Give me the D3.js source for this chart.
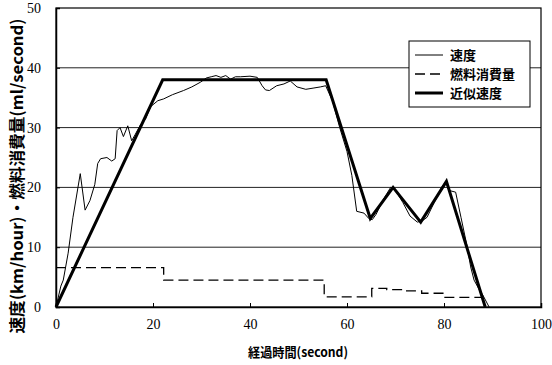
<!DOCTYPE html>
<html><head><meta charset="utf-8">
<script src="https://cdn.jsdelivr.net/npm/d3@7"></script>
<style>body{margin:0;background:#fff}</style>
</head><body>
<svg id="c" width="552" height="365"></svg>
<script>
// Data
const speedT = [0,1,1.5,2.5,3.5,5,6,7,8,8.6,9.2,10.5,11.5,12.2,12.6,13.2,13.9,14.8,15.6,16.3,17.3,18.5,19.5,21,22.2,24,26.3,28,29.8,31,32,33,34,35,36,37,38,40,41.5,42.5,43.2,44,45.5,47,48.3,49.7,51.5,53,54.5,55.6,57,58.5,60,61,62,63.5,64.5,65.2,66,67.5,69,70,71.5,73,74.5,75.5,76.5,78,79.5,80.4,81,82.4,83.5,84.8,85.5,86.2,87.2,88,89.3];
const speedV = [0,3.5,4.5,9,15,22.3,16.2,17.8,20.5,24,24.8,25,24.4,24.8,29.5,30,28.5,30.3,27.8,28.8,30.3,31.5,33.5,34.5,34.8,35.5,36.2,36.8,37.6,38.3,38.5,38.7,38.4,38.7,38.1,38.5,38.5,38.6,38.4,37,36.3,36.2,37,37.3,37.8,36.8,36.4,36.6,36.8,37,34.5,30,26,22,16,15.7,14.8,14.6,15.5,18,20,19.5,17.5,15.2,14.2,14.4,15,17.5,20,21,19.5,19.2,15,10,6.7,4.5,3,2,0];
const fuelT = [0,22.2,22.2,55.3,55.3,65.1,65.1,68.2,68.2,72.3,72.3,75.4,75.4,80.2,80.2,88];
const fuelV = [6.6,6.6,4.5,4.5,1.7,1.7,3.1,3.1,2.9,2.9,2.7,2.7,2.3,2.3,1.6,1.6];
const approxT = [0,22,55.7,64.8,69.5,75.2,80.5,88.5];
const approxV = [0,38,38,14.8,20,14.2,21,0];
const xTicks = [0,20,40,60,80,100];
const yTicks = [0,10,20,30,40,50];
const legendNames = ["速度","燃料消費量","近似速度"];
const xLabel = "経過時間(second)";
const yLabel = "速度(km/hour)・燃料消費量(ml/second)";

const svg = d3.select("#c");
const L=56, R=541, T=8, B=307;
const x = d3.scaleLinear().domain([0,100]).range([L,R]);
const y = d3.scaleLinear().domain([0,50]).range([B,T]);

// grid
svg.append("g").selectAll("line").data([10,20,30,40]).join("line")
  .attr("x1",L).attr("x2",R).attr("y1",d=>y(d)).attr("y2",d=>y(d))
  .attr("stroke","#222").attr("stroke-width",1);

// frame
svg.append("rect").attr("x",L).attr("y",T).attr("width",R-L).attr("height",B-T)
  .attr("fill","none").attr("stroke","#000").attr("stroke-width",1.2);

// axes
const xa = svg.append("g").attr("transform",`translate(0,${B})`)
  .call(d3.axisBottom(x).tickValues(xTicks).tickSize(-4).tickPadding(12));
const ya = svg.append("g").attr("transform",`translate(${L},0)`)
  .call(d3.axisLeft(y).tickValues(yTicks).tickSize(-4).tickPadding(15));
[xa,ya].forEach(a=>{
  a.select(".domain").attr("stroke","#000").attr("stroke-width",1.5);
  a.selectAll("text").attr("font-family","'Liberation Serif',serif").attr("font-size",14).attr("fill","#000");
  a.selectAll(".tick line").attr("stroke","#000");
});

const line = d3.line().x(d=>x(d[0])).y(d=>y(d[1]));

svg.append("path").datum(fuelT.map((t,i)=>[t,fuelV[i]])).attr("d",line)
  .attr("fill","none").attr("stroke","#000").attr("stroke-width",1.3).attr("stroke-dasharray","10,5");
svg.append("path").datum(speedT.map((t,i)=>[t,speedV[i]])).attr("d",line)
  .attr("fill","none").attr("stroke","#000").attr("stroke-width",1);
svg.append("path").datum(approxT.map((t,i)=>[t,approxV[i]])).attr("d",line)
  .attr("fill","none").attr("stroke","#000").attr("stroke-width",3).attr("stroke-linejoin","miter");

// legend
const lg = svg.append("g");
lg.append("rect").attr("x",409).attr("y",41).attr("width",121).attr("height",66)
  .attr("fill","#fff").attr("stroke","#000").attr("stroke-width",1);
const styles=[{w:1,d:null},{w:1.3,d:"10,5"},{w:3,d:null}];
legendNames.forEach((n,i)=>{
  const yy = 55 + i*19;
  lg.append("line").attr("x1",415).attr("x2",443).attr("y1",yy).attr("y2",yy)
    .attr("stroke","#000").attr("stroke-width",styles[i].w).attr("stroke-dasharray",styles[i].d);
  lg.append("text").attr("x",450).attr("y",yy).attr("dy","0.35em")
    .attr("font-family","'Noto Sans CJK JP',sans-serif").attr("font-weight","bold")
    .attr("font-size",13).text(n);
});

// axis labels
svg.append("text").attr("x",298).attr("y",352).attr("dy","0.35em").attr("text-anchor","middle")
  .attr("font-family","'Noto Sans CJK JP',sans-serif").attr("font-weight","bold")
  .attr("font-size",13).attr("textLength",100).attr("lengthAdjust","spacingAndGlyphs").text(xLabel);
svg.append("text").attr("transform","translate(17,176) rotate(-90)").attr("dy","0.35em")
  .attr("text-anchor","middle")
  .attr("font-family","'Noto Sans CJK JP',sans-serif").attr("font-weight","bold")
  .attr("font-size",16).attr("textLength",315).attr("lengthAdjust","spacingAndGlyphs").text(yLabel);
</script>
</body></html>
